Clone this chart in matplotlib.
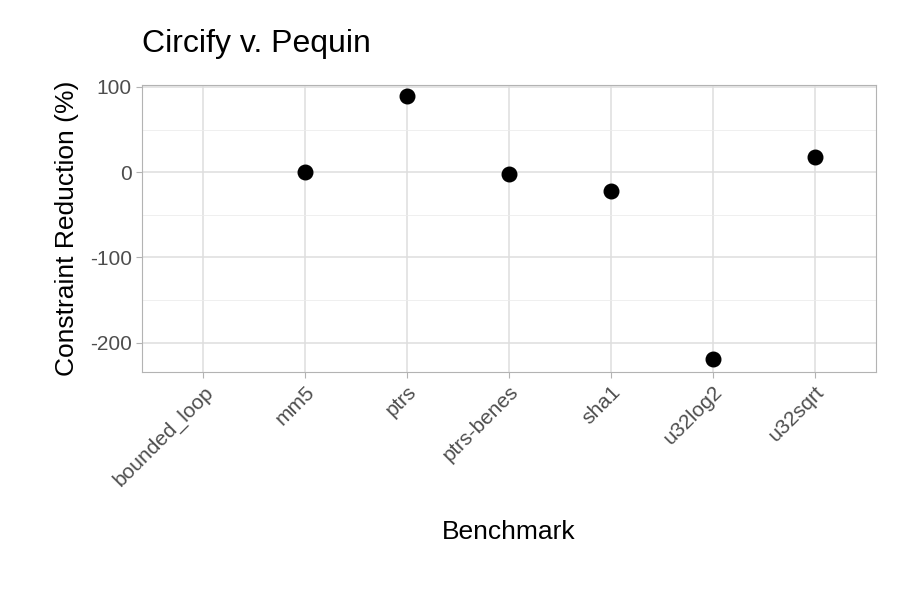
import numpy as np
import matplotlib.pyplot as plt

plt.rcParams['font.family'] = ['Liberation Sans', 'DejaVu Sans']
plt.rcParams['axes.unicode_minus'] = False

benchmarks = ['bounded_loop', 'mm5', 'ptrs', 'ptrs-benes', 'sha1', 'u32log2', 'u32sqrt']
reduction = [np.nan, 0, 89, -2, -22, -219, 18]

fig = plt.figure(figsize=(9, 6), dpi=100)
ax = fig.add_axes([0.158, 0.38, 0.815, 0.478])

x = np.arange(len(benchmarks))
ax.scatter(x, reduction, s=110, color='black', zorder=3)

ax.set_xlim(-0.6, len(benchmarks) - 0.4)
ax.set_ylim(-234.5, 102)
ax.set_xticks(x)
ax.set_xticklabels(benchmarks, rotation=45, ha='right', rotation_mode='anchor')
ax.set_yticks([100, 0, -100, -200])
ax.set_yticks([50, -50, -150], minor=True)

ax.grid(True, which='major', color='#dedede', linewidth=1.1)
ax.grid(True, which='minor', axis='y', color='#ececec', linewidth=0.6)
ax.set_axisbelow(True)
for s in ax.spines.values():
    s.set_color('#b3b3b3')
ax.tick_params(which='major', colors='#b3b3b3', labelcolor='#4d4d4d', labelsize=15, length=4)
ax.tick_params(which='minor', length=0)

ax.set_xlabel('Benchmark', fontsize=19, labelpad=22)
ax.set_ylabel('Constraint Reduction (%)', fontsize=19, labelpad=8)
ax.set_title('Circify v. Pequin', fontsize=23, loc='left', pad=24)

fig.savefig('out.png')
